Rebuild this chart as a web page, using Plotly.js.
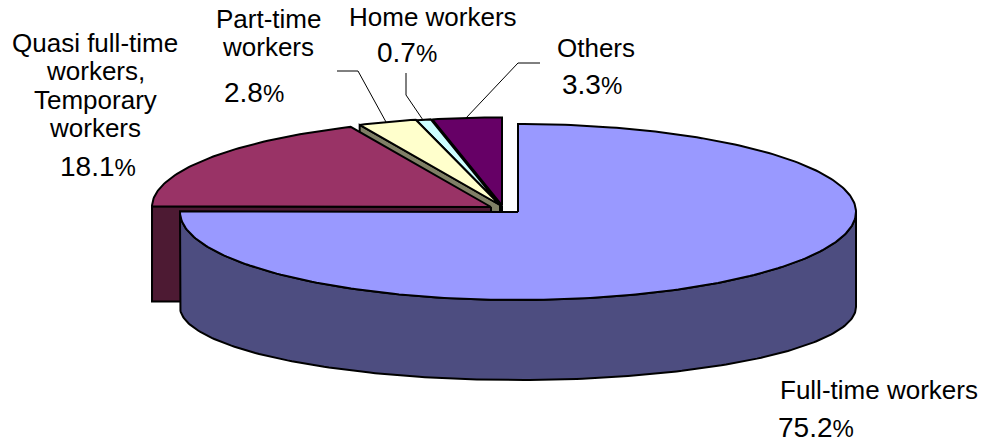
<!DOCTYPE html>
<html>
<head>
<meta charset="utf-8">
<script src="https://cdn.plot.ly/plotly-3.0.1.min.js"></script>
<style>html,body{margin:0;padding:0;background:#fff}#chart{width:982px;height:444px}</style>
</head>
<body>
<div id="chart"></div>
<script>
// ---- data ----
const categories = ["Full-time workers", "Quasi full-time workers, Temporary workers", "Part-time workers", "Home workers", "Others"];
const shares = [75.2, 18.1, 2.8, 0.7, 3.3];

// ---- style ----
const topColors  = ["#9999FF", "#993366", "#FFFFCC", "#CCFFFF", "#660066"];
const sideColors = ["#4D4D80", "#4D1A33", "#808066", "#668080", "#330033"];
const apexX = [518, 491, 500, 500.5, 502];
const apexY = [212, 207, 205, 205.5, 205.5];
const radiusXs = [338, 339, 339, 339, 339];
const radiusTop = 88, radiusBottom = 73, depth = 95;
const labelFont = "Liberation Sans, Arial, sans-serif";
const pctFont = "Liberation Sans, Arial, sans-serif";
const pctSignFont = "Liberation Sans Narrow, Liberation Sans, Arial, sans-serif";

// label layout: lines of text with their centre positions
const nameLines = [
  ["Full-time workers"],
  ["Quasi full-time", "workers,", "Temporary", "workers"],
  ["Part-time", "workers"],
  ["Home workers"],
  ["Others"]
];
const nameX = [879, 95, 268, 433, 596];
const nameY = [390, 43, 19, 17, 48];
const nameGap = 28.4;
const pctX = [816, 98, 253.5, 406.5, 591.5];
const pctY = [427.5, 166, 92, 52, 84];

// leader lines
const leaderX = [[337, 358, 386], [406, 406, 423], [540, 518, 466]];
const leaderY = [[71, 71, 122], [73, 95, 120], [63, 63, 118]];

// ---- geometry computed from the shares ----
const total = shares.reduce((a, b) => a + b, 0);
const starts = [];
let acc = 0;
shares.forEach(v => { starts.push(acc / total * 360); acc += v; });
const rad = d => d * Math.PI / 180;

function topPt(i, deg) {
  return [apexX[i] + radiusXs[i] * Math.sin(rad(deg)), apexY[i] - radiusTop * Math.cos(rad(deg))];
}
function botPt(i, deg) {
  return [apexX[i] + radiusXs[i] * Math.sin(rad(deg)), apexY[i] + depth - radiusBottom * Math.cos(rad(deg))];
}
function arc(fn, i, a, b) {
  const n = Math.max(2, Math.ceil(Math.abs(b - a)));
  const out = [];
  for (let k = 0; k <= n; k++) out.push(fn(i, a + (b - a) * k / n));
  return out;
}
function poly(pts, color) {
  return {
    type: "scatter", mode: "lines", x: pts.map(p => p[0]), y: pts.map(p => p[1]),
    fill: "toself", fillcolor: color, line: {color: "#000", width: 2},
    hoverinfo: "skip", showlegend: false
  };
}

const traces = [];
[4, 3, 2, 1, 0].forEach(i => {
  const a0 = starts[i], a1 = a0 + shares[i] / total * 360;
  const apex = [apexX[i], apexY[i]];
  if (i === 0) {
    // outer wall of the front-facing part
    const wallTop = arc(topPt, i, 90, Math.min(a1, 270));
    const wallBot = arc(botPt, i, Math.min(a1, 270), 90);
    const w = wallTop.concat(wallBot); w.push(wallTop[0]);
    traces.push(poly(w, sideColors[i]));
  } else {
    // cut face at the slice's starting edge
    const r = topPt(i, a0);
    const rb = botPt(i, a0);
    traces.push(poly([apex, r, rb, [apex[0], apex[1] + depth], apex], sideColors[i]));
  }
  const t = [apex].concat(arc(topPt, i, a0, a1)); t.push(apex);
  traces.push(poly(t, topColors[i]));
});

leaderX.forEach((xs, k) => traces.push({
  type: "scatter", mode: "lines", x: xs, y: leaderY[k],
  line: {color: "#000", width: 1}, hoverinfo: "skip", showlegend: false
}));

const annotations = [];
function addText(text, x, y, family, size) {
  annotations.push({
    text, x, y, xref: "x", yref: "y", showarrow: false, xanchor: "center", yanchor: "middle",
    font: {family, size, color: "#000"}
  });
}
categories.forEach((c, i) => {
  nameLines[i].forEach((ln, k) => addText(ln, nameX[i], nameY[i] + k * nameGap, labelFont, 26));
  const num = shares[i].toFixed(1);
  addText(num + '<span style="font-size:24px;font-family:' + pctSignFont + '">%</span>', pctX[i], pctY[i], pctFont, 28);
});

Plotly.newPlot("chart", traces, {
  width: 982, height: 444,
  margin: {l: 0, r: 0, t: 0, b: 0},
  paper_bgcolor: "#fff", plot_bgcolor: "#fff",
  xaxis: {range: [0, 982], visible: false, fixedrange: true},
  yaxis: {range: [444, 0], visible: false, fixedrange: true},
  showlegend: false,
  annotations
}, {displayModeBar: false, staticPlot: true});
</script>
</body>
</html>
